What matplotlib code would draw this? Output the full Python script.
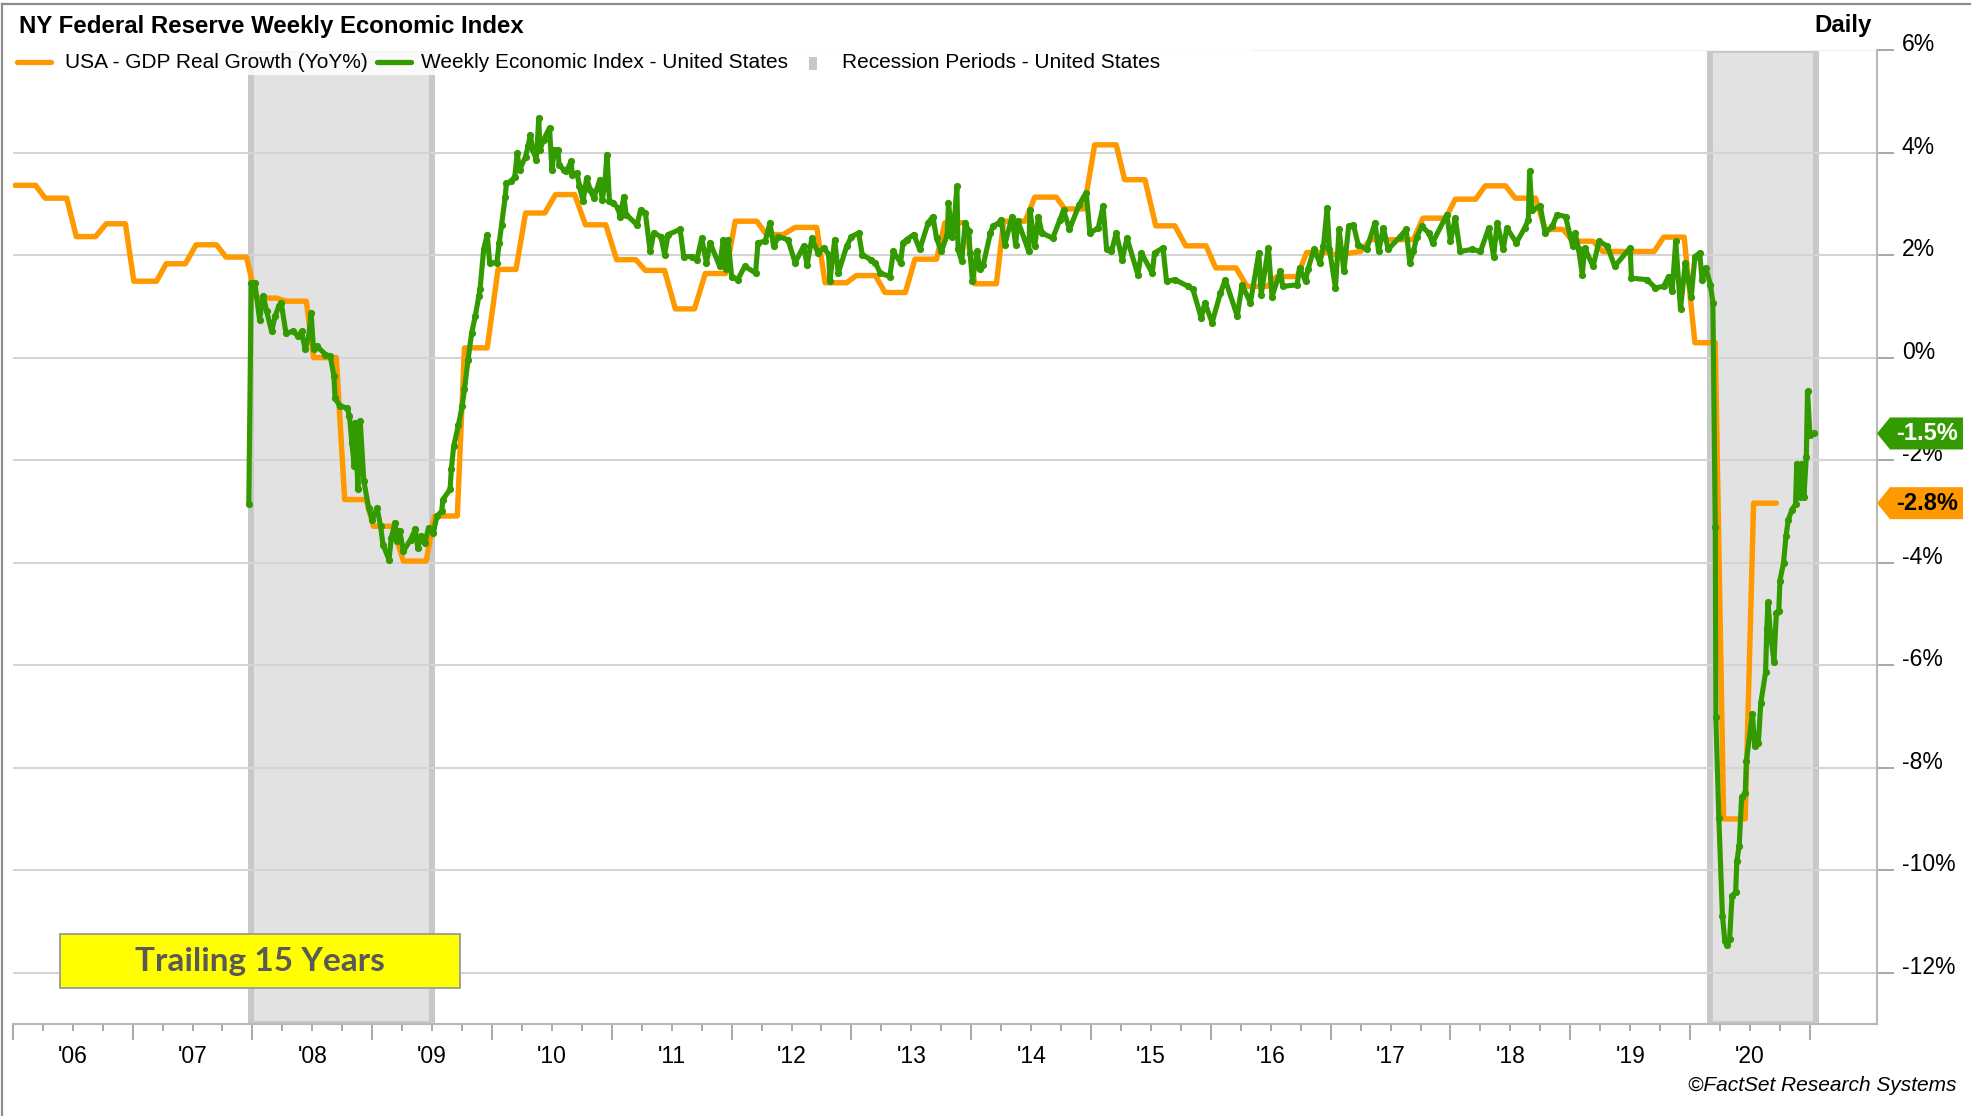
import matplotlib
matplotlib.use("Agg")
import matplotlib.pyplot as plt
import matplotlib.transforms as mtransforms
from matplotlib.patches import Rectangle, Polygon
from matplotlib.lines import Line2D
from matplotlib.ticker import FixedLocator, FuncFormatter, NullFormatter

plt.rcParams['font.family'] = ['Liberation Sans', 'DejaVu Sans']

# ---------------- data ----------------
title = "NY Federal Reserve Weekly Economic Index"
frequency = "Daily"
legend_labels = ["USA - GDP Real Growth (YoY%)",
                 "Weekly Economic Index - United States",
                 "Recession Periods - United States"]
source = "\u00a9FactSet Research Systems"
box_text = "Trailing 15 Years"

years = list(range(2006, 2022))
year_labels = ["'06", "'07", "'08", "'09", "'10", "'11", "'12", "'13",
               "'14", "'15", "'16", "'17", "'18", "'19", "'20"]
y_ticks = [-12, -10, -8, -6, -4, -2, 0, 2, 4, 6]
y_tick_labels = ["-12%", "-10%", "-8%", "-6%", "-4%", "-2%", "0%", "2%", "4%", "6%"]

recession_start = [2007.99, 2020.17]
recession_end = [2009.50, 2021.05]

gdp_dates = [2006.02, 2006.19, 2006.27, 2006.45, 2006.53, 2006.69, 2006.78, 2006.94,
             2007.01, 2007.20, 2007.28, 2007.44, 2007.53, 2007.70, 2007.78, 2007.95,
             2008.03, 2008.20, 2008.28, 2008.45, 2008.51, 2008.70, 2008.77, 2008.95,
             2009.01, 2009.17, 2009.26, 2009.45, 2009.52, 2009.71, 2009.77, 2009.96,
             2010.05, 2010.20, 2010.28, 2010.44, 2010.53, 2010.69, 2010.78, 2010.95,
             2011.04, 2011.20, 2011.28, 2011.44, 2011.53, 2011.69, 2011.78, 2011.95,
             2012.03, 2012.21, 2012.29, 2012.43, 2012.53, 2012.71, 2012.78, 2012.96,
             2013.04, 2013.20, 2013.28, 2013.45, 2013.53, 2013.71, 2013.78, 2013.95,
             2014.03, 2014.21, 2014.27, 2014.45, 2014.53, 2014.71, 2014.78, 2014.94,
             2015.03, 2015.21, 2015.28, 2015.45, 2015.54, 2015.70, 2015.79, 2015.96,
             2016.04, 2016.21, 2016.30, 2016.47, 2016.55, 2016.72, 2016.80, 2016.97,
             2017.05, 2017.25, 2017.33, 2017.69, 2017.77, 2017.96,
             2018.04, 2018.21, 2018.29, 2018.46, 2018.54, 2018.71, 2018.79, 2018.94,
             2019.02, 2019.19, 2019.27, 2019.70, 2019.78, 2019.95,
             2020.04, 2020.21, 2020.28, 2020.46, 2020.53, 2020.72]
gdp_values = [3.36, 3.36, 3.11, 3.11, 2.36, 2.36, 2.61, 2.61,
              1.49, 1.49, 1.83, 1.83, 2.20, 2.20, 1.96, 1.96,
              1.16, 1.16, 1.10, 1.10, 0.00, 0.00, -2.77, -2.77,
              -3.29, -3.29, -3.97, -3.97, -3.09, -3.09, 0.19, 0.19,
              1.72, 1.72, 2.82, 2.82, 3.18, 3.18, 2.59, 2.59,
              1.91, 1.91, 1.70, 1.70, 0.95, 0.95, 1.64, 1.64,
              2.66, 2.66, 2.40, 2.40, 2.54, 2.54, 1.46, 1.46,
              1.60, 1.60, 1.27, 1.27, 1.92, 1.92, 2.63, 2.63,
              1.44, 1.44, 2.66, 2.66, 3.13, 3.13, 2.90, 2.90,
              4.15, 4.15, 3.47, 3.47, 2.57, 2.57, 2.18, 2.18,
              1.75, 1.75, 1.39, 1.39, 1.58, 1.58, 2.05, 2.05,
              2.00, 2.07, 2.30, 2.30, 2.72, 2.72,
              3.09, 3.09, 3.35, 3.35, 3.11, 3.11, 2.50, 2.50,
              2.27, 2.27, 2.07, 2.07, 2.35, 2.35,
              0.29, 0.29, -9.00, -9.00, -2.84, -2.84]

wei_dates = [2007.97, 2007.99, 2008.02, 2008.06, 2008.09, 2008.12, 2008.16, 2008.19,
             2008.22, 2008.24, 2008.28, 2008.34, 2008.38, 2008.41, 2008.44, 2008.47,
             2008.49, 2008.51, 2008.54, 2008.61, 2008.65, 2008.68, 2008.69, 2008.73,
             2008.79, 2008.81, 2008.83, 2008.85, 2008.86, 2008.88, 2008.90, 2008.93,
             2008.97, 2009.00, 2009.04, 2009.07, 2009.09, 2009.14, 2009.16, 2009.19,
             2009.21, 2009.23, 2009.26, 2009.32, 2009.36, 2009.38, 2009.41, 2009.44,
             2009.47, 2009.51, 2009.54, 2009.58, 2009.59, 2009.65, 2009.66, 2009.68,
             2009.72, 2009.75, 2009.77, 2009.80, 2009.83, 2009.86, 2009.89, 2009.90,
             2009.93, 2009.96, 2009.98, 2010.04, 2010.06, 2010.08, 2010.11, 2010.12,
             2010.16, 2010.19, 2010.21, 2010.23, 2010.28, 2010.30, 2010.32, 2010.34,
             2010.37, 2010.39, 2010.40, 2010.43, 2010.48, 2010.50, 2010.52, 2010.55,
             2010.56, 2010.60, 2010.62, 2010.66, 2010.67, 2010.71, 2010.73, 2010.76,
             2010.79, 2010.82, 2010.85, 2010.90, 2010.92, 2010.94, 2010.96, 2010.98,
             2011.01, 2011.05, 2011.07, 2011.10, 2011.12, 2011.21, 2011.24, 2011.28,
             2011.32, 2011.35, 2011.41, 2011.44, 2011.47, 2011.57, 2011.60, 2011.67,
             2011.71, 2011.75, 2011.79, 2011.82, 2011.90, 2011.93, 2011.95, 2011.97,
             2012.00, 2012.05, 2012.11, 2012.20, 2012.22, 2012.28, 2012.32, 2012.35,
             2012.39, 2012.47, 2012.53, 2012.60, 2012.63, 2012.67, 2012.72, 2012.77,
             2012.81, 2012.82, 2012.86, 2012.89, 2012.96, 2013.00, 2013.06, 2013.09,
             2013.16, 2013.20, 2013.24, 2013.32, 2013.35, 2013.41, 2013.43, 2013.46,
             2013.52, 2013.57, 2013.64, 2013.68, 2013.71, 2013.75, 2013.80, 2013.81,
             2013.84, 2013.86, 2013.88, 2013.89, 2013.92, 2013.95, 2013.98, 2013.99,
             2014.01, 2014.05, 2014.07, 2014.10, 2014.16, 2014.18, 2014.23, 2014.25,
             2014.28, 2014.34, 2014.37, 2014.39, 2014.48, 2014.49, 2014.53, 2014.56,
             2014.59, 2014.68, 2014.74, 2014.77, 2014.82, 2014.90, 2014.94, 2014.96,
             2014.99, 2015.06, 2015.10, 2015.13, 2015.17, 2015.21, 2015.26, 2015.30,
             2015.39, 2015.42, 2015.51, 2015.53, 2015.60, 2015.63, 2015.70, 2015.81,
             2015.85, 2015.92, 2015.95, 2016.01, 2016.08, 2016.12, 2016.22, 2016.26,
             2016.33, 2016.40, 2016.42, 2016.48, 2016.51, 2016.58, 2016.60, 2016.72,
             2016.74, 2016.79, 2016.81, 2016.86, 2016.91, 2016.94, 2016.97, 2016.99,
             2017.04, 2017.07, 2017.11, 2017.15, 2017.19, 2017.23, 2017.30, 2017.37,
             2017.40, 2017.44, 2017.48, 2017.58, 2017.63, 2017.66, 2017.69, 2017.72,
             2017.76, 2017.82, 2017.85, 2017.97, 2018.00, 2018.04, 2018.08, 2018.18,
             2018.25, 2018.32, 2018.36, 2018.39, 2018.44, 2018.47, 2018.55, 2018.62,
             2018.65, 2018.66, 2018.68, 2018.75, 2018.79, 2018.85, 2018.89, 2018.96,
             2019.02, 2019.04, 2019.07, 2019.10, 2019.12, 2019.19, 2019.24, 2019.31,
             2019.37, 2019.50, 2019.51, 2019.64, 2019.71, 2019.78, 2019.82, 2019.85,
             2019.88, 2019.92, 2019.96, 2020.01, 2020.04, 2020.08, 2020.10, 2020.13,
             2020.17, 2020.19, 2020.21, 2020.215, 2020.24, 2020.27, 2020.29, 2020.31,
             2020.33, 2020.35, 2020.38, 2020.39, 2020.41, 2020.43, 2020.46, 2020.47,
             2020.52, 2020.54, 2020.57, 2020.59, 2020.63, 2020.64, 2020.65, 2020.67,
             2020.70, 2020.72, 2020.74, 2020.75, 2020.78, 2020.80, 2020.82, 2020.85,
             2020.88, 2020.89, 2020.92, 2020.93, 2020.95, 2020.97, 2020.98, 2021.00,
             2021.03]
wei_values = [-2.85, 1.46, 1.46, 0.74, 1.20, 0.90, 0.51, 0.81,
              1.00, 1.07, 0.48, 0.51, 0.42, 0.51, 0.16, 0.42,
              0.87, 0.16, 0.22, 0.06, 0.03, -0.36, -0.79, -0.95,
              -0.98, -1.14, -1.66, -2.12, -1.27, -2.57, -1.24, -2.41,
              -2.93, -3.16, -2.93, -3.29, -3.65, -3.94, -3.51, -3.22,
              -3.58, -3.38, -3.78, -3.55, -3.35, -3.71, -3.48, -3.61,
              -3.32, -3.42, -3.09, -3.00, -2.77, -2.57, -2.18, -1.73,
              -1.31, -0.95, -0.62, -0.04, 0.48, 0.81, 1.20, 1.33,
              2.11, 2.40, 1.85, 1.85, 2.24, 2.59, 3.14, 3.40,
              3.44, 3.53, 3.99, 3.66, 3.92, 4.12, 4.35, 4.05,
              3.86, 4.67, 4.05, 4.25, 4.48, 3.66, 4.05, 4.05,
              3.76, 3.66, 3.63, 3.83, 3.57, 3.60, 3.34, 3.05,
              3.50, 3.27, 3.11, 3.47, 3.08, 3.37, 3.96, 3.05,
              3.02, 2.92, 2.75, 3.14, 2.79, 2.59, 2.88, 2.82,
              2.07, 2.43, 2.36, 2.01, 2.40, 2.50, 1.97, 1.97,
              1.91, 2.33, 1.85, 2.24, 1.78, 2.30, 1.72, 2.30,
              1.58, 1.52, 1.78, 1.65, 2.24, 2.27, 2.63, 2.17,
              2.36, 2.30, 1.85, 2.17, 1.81, 2.33, 2.04, 2.14,
              2.01, 1.49, 2.30, 1.65, 2.17, 2.36, 2.43, 2.01,
              1.91, 1.85, 1.65, 1.58, 2.07, 1.85, 2.24, 2.30,
              2.40, 2.11, 2.63, 2.75, 2.33, 2.07, 2.40, 3.02,
              2.36, 2.69, 3.34, 2.11, 1.88, 2.63, 2.46, 2.04,
              1.49, 2.07, 1.72, 1.81, 2.43, 2.56, 2.63, 2.69,
              2.20, 2.75, 2.20, 2.66, 2.07, 2.88, 2.17, 2.75,
              2.43, 2.33, 2.69, 2.88, 2.50, 2.98, 3.14, 3.21,
              2.43, 2.53, 2.95, 2.11, 2.07, 2.43, 1.91, 2.33,
              1.62, 2.04, 1.65, 2.04, 2.14, 1.49, 1.52, 1.39,
              1.33, 0.77, 1.07, 0.68, 1.26, 1.52, 0.81, 1.42,
              1.07, 2.04, 1.23, 2.14, 1.19, 1.68, 1.39, 1.42,
              1.75, 1.49, 1.72, 2.11, 1.85, 2.17, 2.92, 2.11,
              1.36, 2.50, 1.68, 2.56, 2.59, 2.20, 2.11, 2.63,
              2.07, 2.53, 2.11, 2.36, 2.50, 1.85, 2.07, 2.36,
              2.56, 2.43, 2.24, 2.79, 2.27, 2.72, 2.07, 2.11,
              2.07, 2.53, 1.97, 2.63, 2.11, 2.53, 2.24, 2.53,
              2.69, 3.63, 2.88, 2.95, 2.43, 2.56, 2.79, 2.75,
              2.17, 2.43, 2.11, 1.62, 2.14, 1.78, 2.27, 2.17,
              1.78, 2.14, 1.55, 1.52, 1.36, 1.39, 1.58, 1.29,
              2.27, 0.94, 1.85, 1.19, 1.97, 2.04, 1.52, 1.75,
              1.42, 1.07, -3.31, -7.02, -8.99, -10.89, -11.38, -11.45,
              -11.34, -10.50, -10.43, -9.83, -9.52, -8.57, -8.50, -7.87,
              -6.95, -7.58, -7.51, -6.74, -6.14, -5.30, -4.77, -5.37,
              -5.93, -4.98, -4.95, -4.35, -4.00, -3.49, -3.16, -2.97,
              -2.86, -2.07, -2.71, -2.07, -2.71, -1.93, -0.66, -1.51,
              -1.48]

# ---------------- style ----------------
ORANGE = "#FF9900"
GREEN = "#339A00"
BAND = "#E2E2E2"
BAND_EDGE = "#C8C8C8"
GRID = "#D4D4D4"
AXIS = "#B8B8B8"
W, H = 1971, 1116


def fx(px):
    return px / W


def fy(py):
    return 1 - py / H


fig = plt.figure(figsize=(W / 100, H / 100), dpi=100)
ax = fig.add_axes([fx(12.8), fy(1024), fx(1877 - 12.8), (1024 - 50) / H])
ax.set_xlim(2006.0, 2021.56)
ax.set_ylim(-13, 6)

# recession bands
for s, e in zip(recession_start, recession_end):
    ax.axvspan(s, e, facecolor=BAND, edgecolor=BAND_EDGE, lw=4.3, zorder=0.2)

# series
ax.plot(gdp_dates, gdp_values, color=ORANGE, lw=3.9, solid_joinstyle='round',
        solid_capstyle='round', zorder=3)
ax.plot(wei_dates, wei_values, color=GREEN, lw=3.7, marker='o', markersize=5.2,
        markeredgewidth=0, solid_joinstyle='round', solid_capstyle='round', zorder=4)

# grid / spines
ax.set_axisbelow(True)
ax.yaxis.grid(True, color=GRID, lw=1.5)
ax.xaxis.grid(False)
for side in ('left', 'top'):
    ax.spines[side].set_visible(False)
for side in ('right', 'bottom'):
    ax.spines[side].set_color(AXIS)
    ax.spines[side].set_linewidth(1.5)

# y axis on right
ax.yaxis.tick_right()
ax.yaxis.set_major_locator(FixedLocator(y_ticks))
ax.set_yticklabels(y_tick_labels)
ax.tick_params(axis='y', which='major', length=12, width=1.2, color='#9A9A9A',
               labelsize=16.5, pad=6, labelcolor='black')
offset = mtransforms.ScaledTranslation(0, 8 / 100, fig.dpi_scale_trans)
for lab in ax.get_yticklabels():
    lab.set_transform(lab.get_transform() + offset)
# the top (6%) gridline is barely visible in the original
ax.yaxis.get_gridlines()[-1].set_color('#F0F0F0')

# x axis: long ticks at year boundaries, short at quarters, labels mid-year
label_map = {round(y + 0.5, 2): lab for y, lab in zip(years, year_labels)}
quarters = [y + q for y in years[:-1] for q in (0.25, 0.5, 0.75)]
ax.xaxis.set_major_locator(FixedLocator(years))
ax.xaxis.set_major_formatter(NullFormatter())
ax.xaxis.set_minor_locator(FixedLocator(quarters))
ax.xaxis.set_minor_formatter(FuncFormatter(lambda v, p: label_map.get(round(v, 2), "")))
ax.tick_params(axis='x', which='major', length=11.3, width=1.2, color='#9A9A9A')
ax.tick_params(axis='x', which='minor', length=5.3, width=1.2, color='#9A9A9A',
               labelsize=16.5, pad=9.5, labelcolor='black')

# ---------------- decorations ----------------
# outer frame (top & left)
fig.add_artist(Line2D([fx(2), fx(2)], [0, fy(4)], color='#8C8C8C', lw=1.6))
fig.add_artist(Line2D([fx(2), 1], [fy(4), fy(4)], color='#8C8C8C', lw=1.6))

fig.text(fx(19), fy(33), title, fontsize=17.3, fontweight='bold', va='baseline')
fig.text(fx(1872), fy(32), frequency, fontsize=17.3, fontweight='bold', va='baseline',
         ha='right')

# legend (white backing over first band top)
fig.add_artist(Rectangle((fx(12), fy(75)), fx(1240), (75 - 48) / H, facecolor='white',
                         edgecolor='none', alpha=0.85, zorder=5))
fig.add_artist(Line2D([fx(17), fx(51)], [fy(61.5)] * 2, color=ORANGE, lw=3.8,
                      solid_capstyle='round', zorder=6))
fig.text(fx(65), fy(68.5), legend_labels[0], fontsize=15, va='baseline', zorder=6)
fig.add_artist(Line2D([fx(377), fx(411)], [fy(61.5)] * 2, color=GREEN, lw=3.8,
                      solid_capstyle='round', zorder=6))
fig.text(fx(421), fy(68.5), legend_labels[1], fontsize=15, va='baseline', zorder=6)
fig.add_artist(Rectangle((fx(809), fy(70)), fx(8), 13 / H, facecolor=BAND_EDGE,
                         edgecolor='none', zorder=6))
fig.text(fx(842), fy(68.5), legend_labels[2], fontsize=15, va='baseline', zorder=6)

# yellow box
fig.add_artist(Rectangle((fx(60), fy(988)), fx(400), 54 / H, facecolor='#FFFF00',
                         edgecolor='#9A9A9A', lw=1.3, zorder=6))
fig.text(fx(260), fy(961), box_text, fontsize=24, fontweight='bold', color='#595959',
         ha='center', va='center', family=['Lato', 'DejaVu Sans'], zorder=7)

# source
fig.text(fx(1957), fy(1091), source, fontsize=15, style='italic', ha='right',
         va='baseline')

# last-value tags
fig.canvas.draw()
ident = mtransforms.IdentityTransform()
for val, col, tcol in ((wei_values[-1], GREEN, 'white'), (gdp_values[-1], ORANGE, 'black')):
    bx, by = ax.get_yaxis_transform().transform((1.0, val))
    verts = [(bx, by), (bx + 13, by + 16), (bx + 86, by + 16), (bx + 86, by - 16),
             (bx + 13, by - 16)]
    fig.add_artist(Polygon(verts, closed=True, facecolor=col, edgecolor='none',
                           transform=ident, zorder=8))
    fig.add_artist(plt.Text(bx + 50, by, f"{val:.1f}%", color=tcol, fontsize=17,
                            fontweight='bold', ha='center', va='center',
                            transform=ident, zorder=9))

fig.savefig("out.png", dpi=100)
